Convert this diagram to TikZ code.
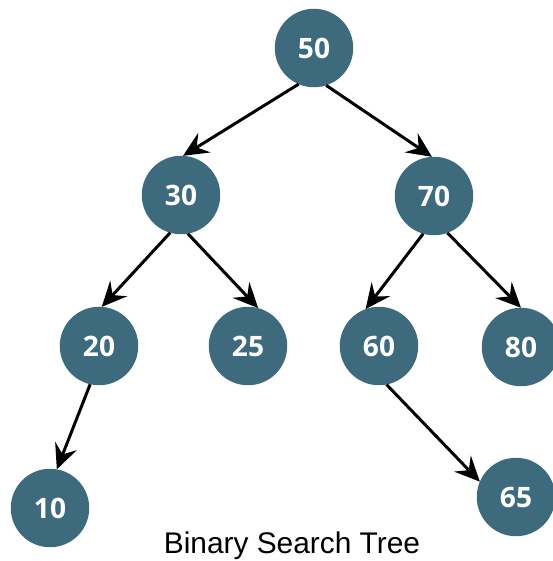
\documentclass[tikz,border=0pt]{standalone}
\usepackage{fontspec}
\setmainfont{Open Sans}
\newfontfamily\captionfont{Liberation Sans}
\usetikzlibrary{arrows.meta}
\definecolor{keyblue}{RGB}{61,106,125}

\begin{document}
\begin{tikzpicture}
    [x=0.02cm, y=-0.02cm,
    key/.style={circle, fill=keyblue, text=white, minimum size=1.57cm, inner sep=0pt, outer sep=0pt, font=\fontsize{16}{16}\selectfont\bfseries},
    arrow/.style={-{Stealth[length=5mm,width=4.6mm,inset=1.8mm]}, line width=1.7pt},
    ]
    \useasboundingbox (0,0) rectangle (553,561);
    % keys, row by row
    \node[key] (k50) at (314,48) {50};
    \node[key] (k30) at (181,195) {30};
    \node[key] (k70) at (434,196) {70};
    \node[key] (k20) at (99,346) {20};
    \node[key] (k25) at (248,346) {25};
    \node[key] (k60) at (379,346) {60};
    \node[key] (k80) at (521,347) {80};
    \node[key] (k10) at (50,508) {10};
    \node[key] (k65) at (516,497) {65};
    % parent -> child, leaving and entering at the given angles
    \foreach \p/\a/\c/\b in {k50/247/k30/87, k50/288/k70/93, k30/254/k20/86, k30/280/k25/75,
                             k70/254/k60/110, k70/290/k80/90, k20/257/k10/80, k60/281/k65/157}
        \draw[arrow] (\p.\a) -- (\c.\b);
    \node[font=\captionfont\fontsize{17}{17}\selectfont] (caption) at (292,546) {Binary Search Tree};
\end{tikzpicture}
\end{document}
